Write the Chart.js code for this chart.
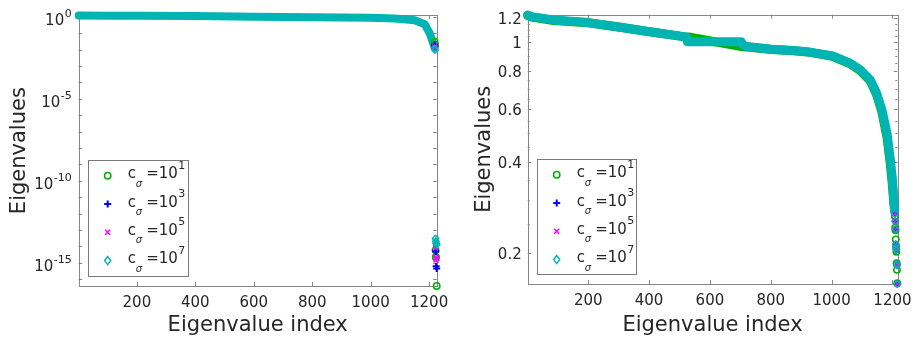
<!DOCTYPE html>
<html>
<head>
<meta charset="utf-8">
<title>Eigenvalues</title>
<script src="https://cdn.jsdelivr.net/npm/chart.js@4.4.1/dist/chart.umd.min.js"></script>
<style>
  html, body { margin: 0; padding: 0; background: #fff; }
  #wrap { position: relative; width: 914px; height: 337px; overflow: hidden; }
  canvas { position: absolute; top: 0; }
  #leftChart { left: 0; }
  #rightChart { left: 460px; }
</style>
</head>
<body>
<div id="wrap">
  <canvas id="leftChart" width="460" height="337"></canvas>
  <canvas id="rightChart" width="454" height="337"></canvas>
</div>
<script>
// c_sigma = 10^k for the four runs
const sigmaExp = [1, 3, 5, 7];
const colors = ["#00b000", "#0000ff", "#ff00ff", "#00b4b4"];
const markers = ["circle", "cross", "crossRot", "rectRot"];

// left panel: whole spectrum (the four runs sit on top of each other)
const leftBandIdx  = [1, 100, 200, 400, 600, 800, 1000, 1083, 1151, 1185, 1202, 1214, 1218];
const leftBandVals = [1.2, 1.17, 1.15, 1.1, 1.0, 0.95, 0.88, 0.79, 0.61, 0.35, 0.1, 0.024, 0.014];
// left panel: last eigenvalues of each run
const leftTailIdx     = [1219, 1220, 1222, 1223, 1224, 1226];
const leftTailGreen   = [0.03, 0.02, 6e-15, 2.3e-15, 2.1e-15, 3.9e-17];
const leftTailBlue    = [0.02, 0.015, 5.5e-15, 5e-15, 6.3e-16, 4.5e-16];
const leftTailMagenta = [0.015, 0.012, 8e-15, 2.3e-15, 1.5e-15, 1.8e-15];
const leftTailCyan    = [0.012, 0.0094, 3.1e-14, 2.1e-14, 1.6e-14, 1.3e-14];
const leftTicksX   = [200, 400, 600, 800, 1000, 1200];
const leftTicksExp = [0, -5, -10, -15];

// right panel: spectrum without the null space
const rightBandIdx  = [1, 14, 86, 200, 305, 401, 513, 524, 526, 703, 708, 721, 803, 875, 929, 1003, 1061, 1094, 1127, 1148, 1165, 1182, 1193, 1200, 1204, 1207];
const rightBandVals = [1.23, 1.215, 1.185, 1.161, 1.121, 1.084, 1.043, 1.039, 1.003, 1.003, 0.98, 0.967, 0.948, 0.938, 0.927, 0.901, 0.852, 0.81, 0.75, 0.678, 0.598, 0.5, 0.408, 0.35, 0.302, 0.275];
const rightGreenIdx  = [1, 14, 86, 200, 305, 401, 513, 530, 700, 721, 803, 875, 929, 1003, 1061, 1094, 1127, 1148, 1165, 1182, 1193, 1200, 1205];
const rightGreenVals = [1.225, 1.21, 1.18, 1.16, 1.12, 1.083, 1.043, 1.04, 0.968, 0.964, 0.946, 0.936, 0.925, 0.898, 0.848, 0.805, 0.745, 0.67, 0.59, 0.485, 0.395, 0.335, 0.29];
const rightTailIdx     = [1208, 1209, 1210, 1211, 1212, 1213, 1214, 1215, 1216];
const rightTailGreen   = [0.265, 0.243, 0.238, 0.222, 0.21, 0.202, 0.185, 0.176, 0.159];
const rightTailBlue    = [0.27, 0.255, 0.24, 0.214, 0.209, 0.205, 0.184, 0.182, 0.158];
const rightTailMagenta = [0.27, 0.255, 0.24, 0.214, 0.209, 0.205, 0.184, 0.182, 0.158];
const rightTailCyan    = [0.27, 0.255, 0.24, 0.214, 0.209, 0.205, 0.184, 0.182, 0.158];
const rightTicksX = [200, 400, 600, 800, 1000, 1200];
const rightTicksY = [0.2, 0.4, 0.6, 0.8, 1, 1.2];
const rightMinorY = [0.25, 0.3, 0.35, 0.45, 0.5, 0.55, 0.65, 0.7, 0.75, 0.85, 0.9, 0.95, 1.05, 1.1, 1.15];

const AXIS = "#868686";
const INK = "#262626";
const FONT = '"DejaVu Sans", sans-serif';

function pts(idx, vals) {
  return idx.map((x, i) => ({x: x, y: vals[i]}));
}

function band(idx, vals, k, width) {
  return {
    data: pts(idx, vals),
    borderColor: colors[k],
    borderWidth: width,
    borderCapStyle: "round",
    borderJoinStyle: "round",
    pointRadius: 0,
    fill: false,
    tension: 0,
    clip: false,
    order: 20 - k
  };
}

function tail(idx, vals, k) {
  return {
    data: pts(idx, vals),
    showLine: false,
    pointStyle: markers[k],
    pointRadius: (k == 1 || k == 2) ? 3.5 : 3.2,
    pointBorderWidth: k == 1 ? 2 : 1.5,
    pointBorderColor: colors[k],
    pointBackgroundColor: "rgba(0,0,0,0)",
    clip: false,
    order: 10 - k
  };
}

function marker(ctx, k, x, y) {
  ctx.save();
  ctx.strokeStyle = colors[k];
  ctx.lineWidth = k == 1 ? 2 : 1.5;
  ctx.beginPath();
  if (k == 0) {
    ctx.arc(x, y, 3.2, 0, Math.PI * 2);
  } else if (k == 1) {
    ctx.moveTo(x - 3.5, y); ctx.lineTo(x + 3.5, y);
    ctx.moveTo(x, y - 3.5); ctx.lineTo(x, y + 3.5);
  } else if (k == 2) {
    ctx.moveTo(x - 2.5, y - 2.5); ctx.lineTo(x + 2.5, y + 2.5);
    ctx.moveTo(x - 2.5, y + 2.5); ctx.lineTo(x + 2.5, y - 2.5);
  } else {
    ctx.moveTo(x, y - 4); ctx.lineTo(x + 3, y);
    ctx.lineTo(x, y + 4); ctx.lineTo(x - 3, y); ctx.closePath();
  }
  ctx.stroke();
  ctx.restore();
}

const decor = {
  id: "decor",
  beforeDatasetsDraw(chart, args, o) {
    const ctx = chart.ctx, a = chart.chartArea;
    const x = chart.scales.x, y = chart.scales.y;
    ctx.save();
    ctx.strokeStyle = AXIS;
    ctx.lineWidth = 1;
    ctx.beginPath();
    o.xTicks.forEach(v => {
      const px = Math.round(x.getPixelForValue(v)) + 0.5;
      ctx.moveTo(px, a.bottom); ctx.lineTo(px, a.bottom - 4);
      ctx.moveTo(px, a.top); ctx.lineTo(px, a.top + 4);
    });
    o.yTicks.forEach(t => {
      const py = Math.round(y.getPixelForValue(t.v)) + 0.5;
      ctx.moveTo(a.left, py); ctx.lineTo(a.left + t.len, py);
      ctx.moveTo(a.right, py); ctx.lineTo(a.right - t.len, py);
    });
    ctx.stroke();
    ctx.strokeRect(Math.round(a.left) + 0.5, Math.round(a.top) + 0.5,
      Math.round(a.right - a.left), Math.round(a.bottom - a.top));
    ctx.restore();
  },
  afterDraw(chart, args, o) {
    const ctx = chart.ctx, a = chart.chartArea;
    const x = chart.scales.x, y = chart.scales.y;
    ctx.save();
    ctx.fillStyle = INK;

    // x tick labels
    ctx.font = "15px " + FONT;
    ctx.textAlign = "center";
    ctx.textBaseline = "alphabetic";
    o.xTicks.forEach(v => ctx.fillText(String(v), x.getPixelForValue(v), a.bottom + 21));

    // y tick labels
    o.yLabels.forEach(t => {
      const py = y.getPixelForValue(t.v);
      if (t.exp === undefined) {
        ctx.font = "15px " + FONT;
        ctx.textAlign = "right";
        ctx.fillText(t.text, a.left - 6, py + 5.4);
      } else {
        ctx.textAlign = "left";
        ctx.font = "11px " + FONT;
        const we = ctx.measureText(t.exp).width;
        ctx.font = "15px " + FONT;
        const wb = ctx.measureText("10").width;
        const x0 = a.left - 7 - we - wb - 0.5;
        ctx.fillText("10", x0, py + 8);
        ctx.font = "11px " + FONT;
        ctx.fillText(t.exp, x0 + wb + 0.5, py + 0.5);
      }
    });

    // axis titles
    ctx.font = "21px " + FONT;
    ctx.textAlign = "center";
    ctx.fillText("Eigenvalue index", (a.left + a.right) / 2, 331);
    ctx.save();
    ctx.translate(o.yTitleX, (a.top + a.bottom) / 2);
    ctx.rotate(-Math.PI / 2);
    ctx.fillText("Eigenvalues", 0, 0);
    ctx.restore();

    // legend
    const b = o.legend;
    ctx.fillStyle = "#fff";
    ctx.fillRect(b.x, b.y, b.w, b.h);
    ctx.strokeStyle = "#7a7a7a";
    ctx.lineWidth = 1;
    ctx.strokeRect(Math.round(b.x) + 0.5, Math.round(b.y) + 0.5, Math.round(b.w), Math.round(b.h));
    ctx.textAlign = "left";
    sigmaExp.forEach((e, k) => {
      const my = b.y + 15.4 + k * 28.3;
      marker(ctx, k, b.x + 20, my);
      const tx = b.x + 40;
      ctx.fillStyle = INK;
      ctx.font = "15px " + FONT;
      ctx.fillText("c", tx, my + 2.5);
      ctx.font = "italic 10px " + FONT;
      ctx.fillText("σ", tx + 8, my + 11);
      ctx.font = "15px " + FONT;
      ctx.fillText("=10", tx + 18.5, my + 2.5);
      const w = ctx.measureText("=10").width;
      ctx.font = "11px " + FONT;
      ctx.fillText(String(e), tx + 18.5 + w + 0.5, my - 7);
    });
    ctx.restore();
  }
};

function makeChart(id, datasets, xMax, yMin, yMax, pad, decorOpts) {
  return new Chart(document.getElementById(id), {
    type: "line",
    data: {datasets: datasets},
    options: {
      responsive: false,
      animation: false,
      events: [],
      layout: {padding: pad},
      scales: {
        x: {type: "linear", min: 1, max: xMax, display: false},
        y: {type: "logarithmic", min: yMin, max: yMax, display: false}
      },
      plugins: {
        legend: {display: false},
        tooltip: {enabled: false},
        decor: decorOpts
      }
    },
    plugins: [decor]
  });
}

// left: log scale over 16 decades
const leftDecades = [];
for (let e = -16; e <= 0; e++) leftDecades.push({v: Math.pow(10, e), len: 3.5});
makeChart("leftChart", [
  band(leftBandIdx, leftBandVals, 0, 5.5),
  band(leftBandIdx, leftBandVals, 1, 5.5),
  band(leftBandIdx, leftBandVals, 2, 5.5),
  band(leftBandIdx, leftBandVals, 3, 8),
  tail(leftTailIdx, leftTailGreen, 0),
  tail(leftTailIdx, leftTailBlue, 1),
  tail(leftTailIdx, leftTailMagenta, 2),
  tail(leftTailIdx, leftTailCyan, 3)
], 1226, 3.9e-17, 1.23,
  {left: 78.7, right: 23.3, top: 15.3, bottom: 51},
  {
    xTicks: leftTicksX,
    yTicks: leftDecades,
    yLabels: leftTicksExp.map(e => ({v: Math.pow(10, e), exp: String(e)})),
    yTitleX: 25,
    legend: {x: 87.7, y: 160.3, w: 99.6, h: 115.7}
  });

// right: log scale, 0.16 .. 1.23
makeChart("rightChart", [
  band(rightGreenIdx, rightGreenVals, 0, 9),
  band(rightBandIdx, rightBandVals, 1, 6.5),
  band(rightBandIdx, rightBandVals, 2, 6.5),
  band(rightBandIdx, rightBandVals, 3, 9),
  tail(rightTailIdx, rightTailGreen, 0),
  tail(rightTailIdx, rightTailBlue, 1),
  tail(rightTailIdx, rightTailMagenta, 2),
  tail(rightTailIdx, rightTailCyan, 3)
], 1216, 0.158, 1.233,
  {left: 67.7, right: 16.7, top: 14.7, bottom: 53},
  {
    xTicks: rightTicksX,
    yTicks: rightTicksY.map(v => ({v: v, len: 3.5})).concat(rightMinorY.map(v => ({v: v, len: 2}))),
    yLabels: rightTicksY.map(v => ({v: v, text: String(v)})),
    yTitleX: 30,
    legend: {x: 76.7, y: 159.3, w: 99.3, h: 115}
  });
</script>
</body>
</html>
